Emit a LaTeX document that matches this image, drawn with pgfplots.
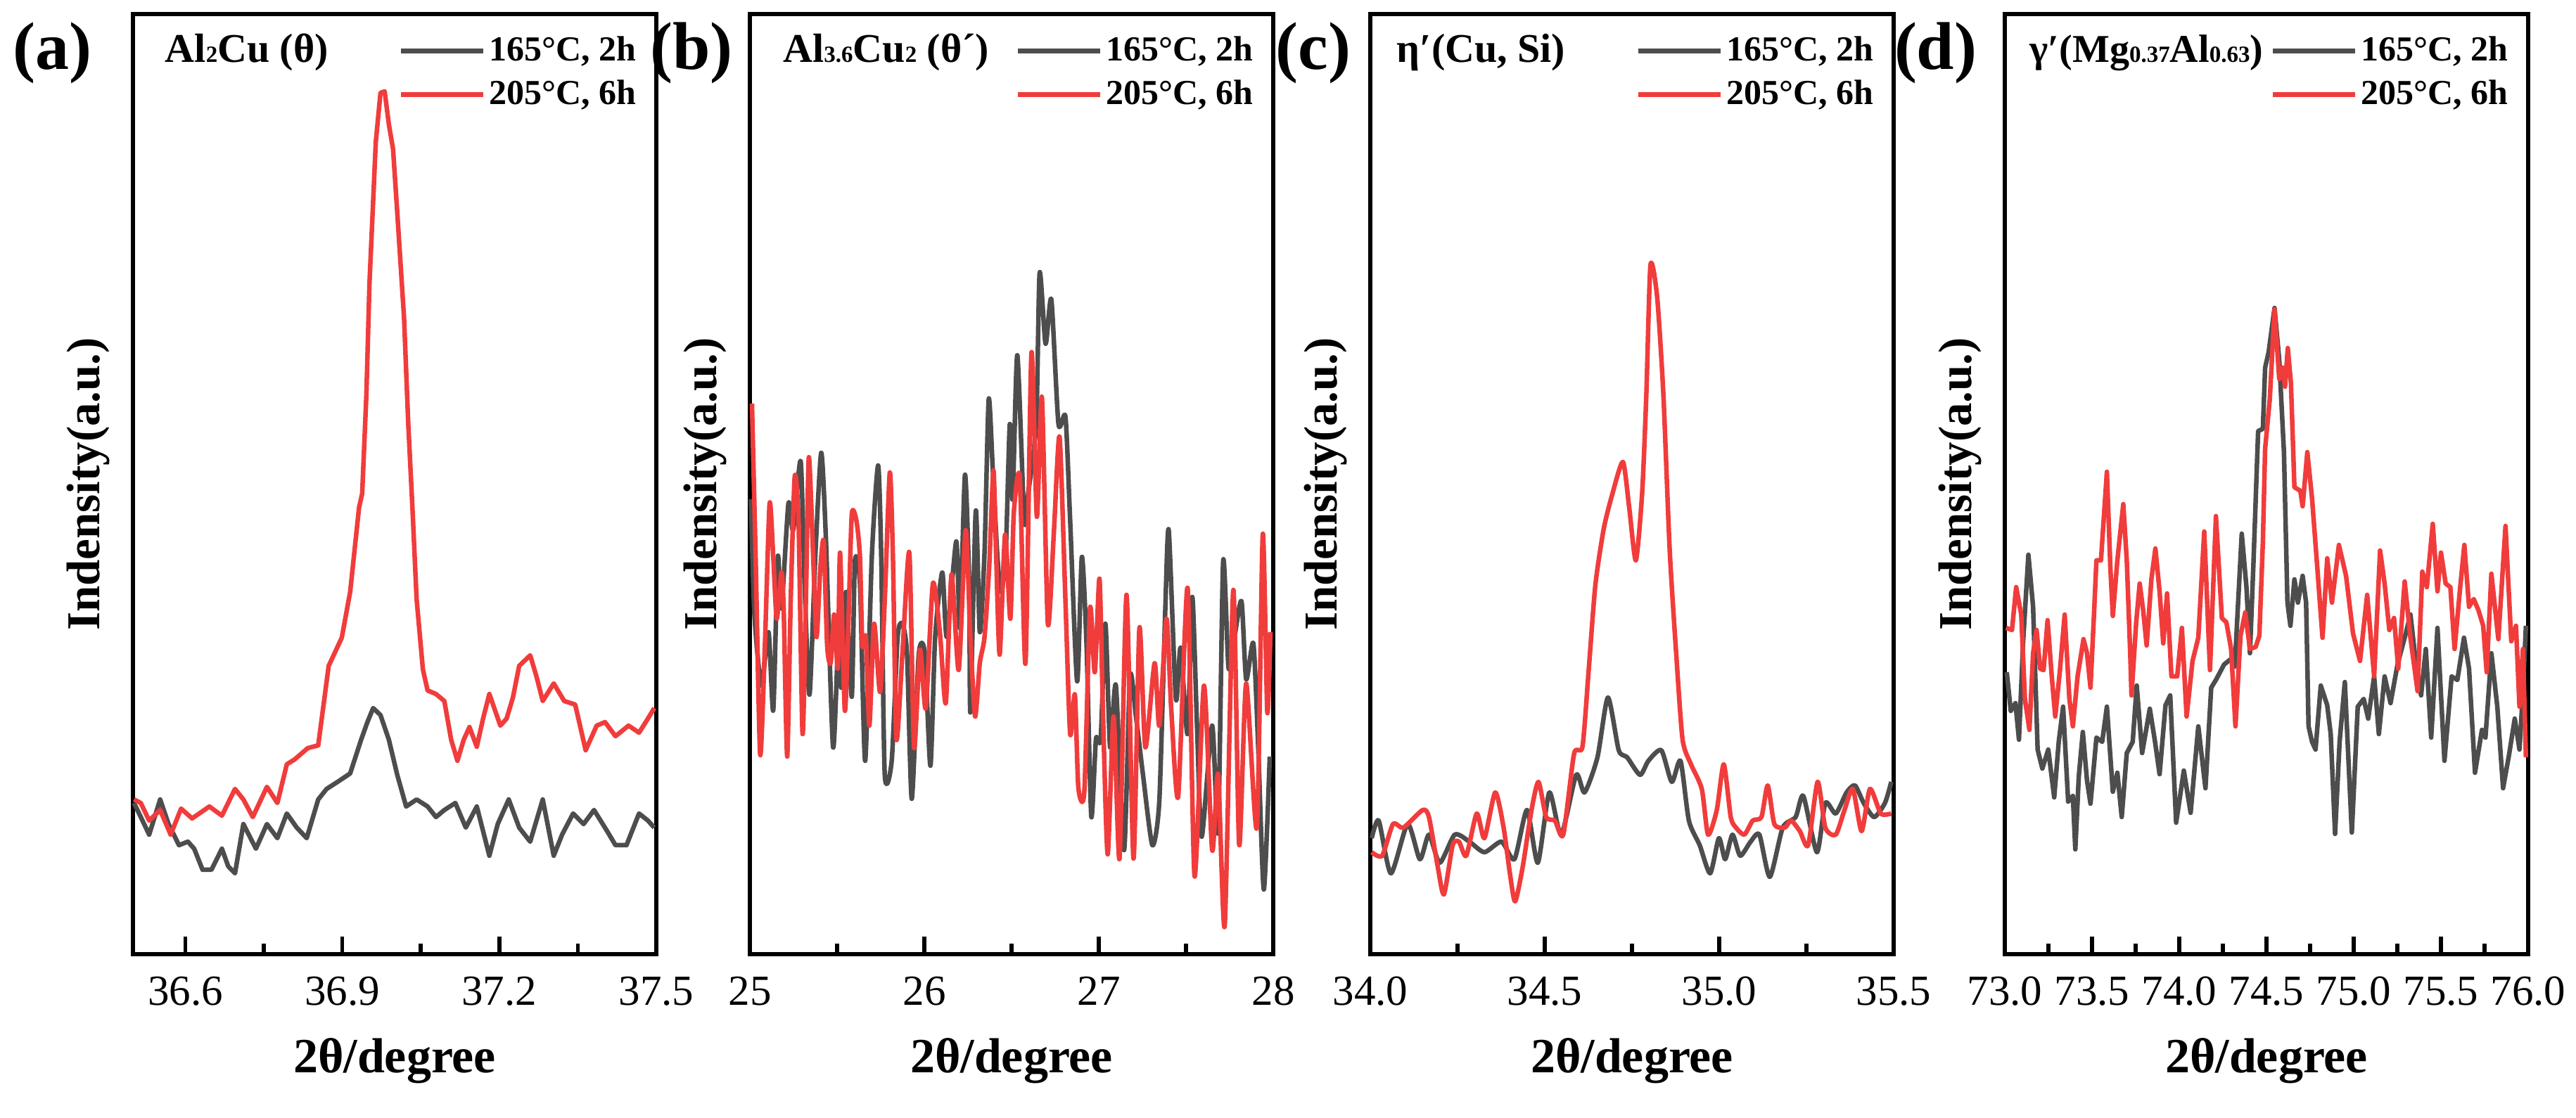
\documentclass[border=0pt]{standalone}
\usepackage{fontspec}
\setmainfont{Liberation Serif}
\usepackage{pgfplots}
\pgfplotsset{compat=1.18}
\definecolor{cgray}{RGB}{77,77,77}
\definecolor{cred}{RGB}{241,60,60}
\newcommand{\sub}[1]{{\fontsize{6.6pt}{6.6pt}\selectfont #1}}
\tikzset{
  ttl/.style={anchor=base west, font=\bfseries\fontsize{11.6pt}{11.6pt}\selectfont},
  plab/.style={anchor=base east, font=\bfseries\fontsize{19.2pt}{19.2pt}\selectfont},
}
\pgfplotsset{
  panel/.style={
    scale only axis, width=148.8pt, height=267.4pt, anchor=south west,
    clip=false,
    ymin=0, ymax=1337, ytick=\empty,
    axis line style={line width=1.1pt},
    tick align=inside, xtick pos=bottom,
    major tick length=5pt, minor tick length=3pt,
    every tick/.style={black, line width=1.1pt},
    xticklabel style={font=\fontsize{12.2pt}{12.2pt}\selectfont, anchor=base, yshift=-14.6pt},
    xlabel={2θ/degree},
    xlabel style={font=\bfseries\fontsize{14pt}{14pt}\selectfont, at={(axis description cs:0.5,-0.1257)}, anchor=base},
    ylabel={Indensity(a.u.)},
    ylabel style={font=\bfseries\fontsize{13.4pt}{13.4pt}\selectfont, at={(axis description cs:-0.0645,0.5)}, anchor=base},
    legend style={draw=none, fill=none, inner xsep=0pt, inner ysep=0pt,
      at={(axis description cs:0.969,0.983)}, anchor=north east,
      font=\bfseries\fontsize{10pt}{10pt}\selectfont, row sep=0.9pt,
      nodes={inner sep=1pt, text height=7.5pt, text depth=2pt}},
    legend cell align=left,
    legend image code/.code={\draw[##1, line width=1.4pt] (0cm,0cm) -- (0.82cm,0cm);},
  },
  gline/.style={color=cgray, line width=1.3pt, line join=round, mark=none},
  rline/.style={color=cred, line width=1.3pt, line join=round, mark=none},
}
\begin{document}
\begin{tikzpicture}
\path[use as bounding box] (0,0) rectangle (732.4pt,318pt);
% (a)
\begin{axis}[panel, at={(37.8pt,46.6pt)}, xmin=36.5, xmax=37.5,
  xtick={36.6,36.9,37.2,37.5}, xticklabels={36.6,36.9,37.2,37.5},
  minor xtick={36.75,37.05,37.35}]
\addplot[gline] coordinates {(36.502,215)(36.515,195)(36.531,170)(36.552,220)(36.568,185)(36.588,155)(36.605,160)(36.617,150)(36.633,120)(36.650,120)(36.670,150)(36.682,125)(36.695,115)(36.711,185)(36.735,150)(36.756,185)(36.776,165)(36.794,200)(36.813,180)(36.832,165)(36.854,220)(36.870,235)(36.891,245)(36.915,257)(36.936,305)(36.948,330)(36.959,350)(36.973,340)(36.989,305)(37.005,255)(37.022,210)(37.042,220)(37.063,210)(37.079,195)(37.095,205)(37.116,215)(37.136,180)(37.157,210)(37.181,140)(37.197,185)(37.218,220)(37.238,180)(37.259,160)(37.283,220)(37.304,140)(37.320,170)(37.341,200)(37.361,185)(37.381,205)(37.406,175)(37.422,155)(37.443,155)(37.467,200)(37.484,190)(37.496,180)};
\addlegendentry{165°C, 2h}
\addplot[rline] coordinates {(36.502,220)(36.515,215)(36.531,190)(36.552,205)(36.572,170)(36.592,207)(36.613,193)(36.646,210)(36.670,197)(36.695,235)(36.711,220)(36.729,195)(36.756,238)(36.776,215)(36.794,270)(36.809,277)(36.834,293)(36.854,297)(36.874,410)(36.899,450)(36.915,515)(36.932,635)(36.938,655)(36.946,795)(36.952,955)(36.964,1155)(36.973,1225)(36.981,1227)(36.989,1180)(36.997,1145)(37.005,1055)(37.018,905)(37.026,755)(37.034,635)(37.042,505)(37.054,405)(37.063,375)(37.079,370)(37.095,360)(37.108,305)(37.120,275)(37.132,305)(37.143,323)(37.157,295)(37.169,335)(37.181,370)(37.202,325)(37.214,335)(37.226,365)(37.238,410)(37.259,425)(37.271,395)(37.283,360)(37.304,385)(37.324,360)(37.345,355)(37.365,290)(37.386,325)(37.402,330)(37.422,310)(37.447,325)(37.467,315)(37.484,335)(37.496,350)};
\addlegendentry{205°C, 6h}
\node[ttl] at (axis description cs:0.038,0.949) {Al\sub{2}Cu (θ)};
\node[plab] at (axis description cs:-0.055,0.9415) {(a)};
\end{axis}
% (b)
\begin{axis}[panel, at={(213.2pt,46.6pt)}, xmin=25, xmax=28,
  xtick={25,26,27,28}, xticklabels={25,26,27,28},
  minor xtick={25.5,26.5,27.5}]
\addplot[gline, smooth, tension=0.4] coordinates {(25.006,647)(25.026,483)(25.066,382)(25.107,458)(25.134,347)(25.160,565)(25.181,492)(25.221,641)(25.248,603)(25.291,701)(25.315,515)(25.342,369)(25.376,571)(25.409,713)(25.436,590)(25.477,294)(25.510,470)(25.524,379)(25.551,515)(25.584,366)(25.602,559)(25.631,527)(25.661,275)(25.699,565)(25.735,695)(25.753,565)(25.773,256)(25.813,275)(25.847,451)(25.874,470)(25.901,426)(25.928,221)(25.968,426)(26.002,429)(26.035,268)(26.062,451)(26.103,543)(26.129,451)(26.183,587)(26.204,464)(26.233,682)(26.257,527)(26.264,344)(26.295,631)(26.318,458)(26.345,571)(26.369,789)(26.392,691)(26.419,565)(26.439,515)(26.466,565)(26.490,754)(26.506,647)(26.533,852)(26.573,616)(26.594,653)(26.641,754)(26.661,969)(26.695,868)(26.728,931)(26.769,754)(26.809,764)(26.836,616)(26.876,388)(26.903,565)(26.930,439)(26.957,196)(26.984,306)(27.011,306)(27.038,470)(27.065,294)(27.098,382)(27.145,148)(27.179,395)(27.213,338)(27.253,256)(27.307,155)(27.347,218)(27.381,489)(27.401,603)(27.442,363)(27.469,436)(27.509,313)(27.536,508)(27.563,325)(27.590,167)(27.650,325)(27.684,174)(27.713,559)(27.744,407)(27.778,451)(27.818,502)(27.845,391)(27.886,442)(27.913,300)(27.946,92)(27.980,281)};
\addlegendentry{165°C, 2h}
\addplot[rline, smooth, tension=0.4] coordinates {(25.012,783)(25.033,565)(25.059,284)(25.086,439)(25.113,641)(25.134,565)(25.154,477)(25.181,543)(25.194,489)(25.214,281)(25.234,502)(25.257,679)(25.279,616)(25.302,313)(25.322,515)(25.338,707)(25.362,571)(25.382,451)(25.403,546)(25.423,587)(25.443,439)(25.463,414)(25.483,483)(25.504,407)(25.517,571)(25.544,347)(25.564,464)(25.584,625)(25.611,616)(25.631,565)(25.645,439)(25.665,451)(25.685,325)(25.712,470)(25.746,373)(25.773,502)(25.802,685)(25.820,565)(25.840,306)(25.874,426)(25.914,571)(25.941,294)(25.975,433)(26.008,350)(26.049,527)(26.089,458)(26.123,357)(26.156,540)(26.197,404)(26.237,603)(26.264,451)(26.291,338)(26.318,414)(26.345,451)(26.372,552)(26.396,688)(26.412,565)(26.432,426)(26.463,597)(26.493,477)(26.513,628)(26.547,679)(26.580,414)(26.614,855)(26.645,622)(26.674,792)(26.708,470)(26.742,597)(26.775,736)(26.809,502)(26.836,313)(26.863,369)(26.883,237)(26.917,231)(26.950,492)(26.977,401)(27.004,534)(27.024,344)(27.051,142)(27.085,338)(27.119,136)(27.159,511)(27.199,136)(27.233,464)(27.267,294)(27.320,414)(27.347,325)(27.388,477)(27.415,350)(27.455,224)(27.509,521)(27.549,111)(27.603,382)(27.650,148)(27.684,256)(27.722,41)(27.771,518)(27.805,155)(27.845,385)(27.906,180)(27.940,597)(27.966,344)(27.984,458)};
\addlegendentry{205°C, 6h}
\node[ttl] at (axis description cs:0.040,0.949) {Al\sub{3.6}Cu\sub{2} (θ´)};
\node[plab] at (axis description cs:-0.0094,0.9415) {(b)};
\end{axis}
% (c)
\begin{axis}[panel, at={(389.6pt,46.6pt)}, xmin=34, xmax=35.5,
  xtick={34,34.5,35,35.5}, xticklabels={34.0,34.5,35.0,35.5},
  minor xtick={34.25,34.75,35.25}]
\addplot[gline, smooth, tension=0.4] coordinates {(34.004,165)(34.024,190)(34.059,115)(34.107,185)(34.142,135)(34.168,170)(34.199,130)(34.242,170)(34.284,160)(34.327,145)(34.376,160)(34.413,135)(34.449,205)(34.480,130)(34.513,230)(34.547,170)(34.590,255)(34.614,230)(34.651,280)(34.681,365)(34.712,290)(34.736,280)(34.773,255)(34.797,275)(34.834,290)(34.864,245)(34.889,275)(34.913,190)(34.944,155)(34.974,115)(34.999,165)(35.017,135)(35.038,170)(35.060,140)(35.090,160)(35.115,170)(35.145,110)(35.182,180)(35.219,195)(35.241,225)(35.280,145)(35.304,215)(35.334,200)(35.365,230)(35.389,240)(35.414,215)(35.444,195)(35.475,215)(35.493,245)};
\addlegendentry{165°C, 2h}
\addplot[rline, smooth, tension=0.4] coordinates {(34.004,145)(34.034,140)(34.065,185)(34.095,180)(34.150,205)(34.168,195)(34.193,125)(34.211,85)(34.236,155)(34.254,160)(34.275,140)(34.305,200)(34.327,165)(34.358,230)(34.382,180)(34.400,115)(34.415,75)(34.437,125)(34.462,205)(34.482,245)(34.504,195)(34.529,190)(34.553,170)(34.584,285)(34.608,295)(34.626,405)(34.645,525)(34.669,605)(34.694,655)(34.724,700)(34.742,635)(34.761,560)(34.779,655)(34.791,795)(34.803,980)(34.822,935)(34.840,795)(34.858,575)(34.877,425)(34.895,305)(34.919,270)(34.950,235)(34.968,170)(34.993,205)(35.013,270)(35.033,195)(35.048,180)(35.072,170)(35.096,190)(35.121,195)(35.139,240)(35.158,185)(35.188,180)(35.206,190)(35.231,175)(35.255,155)(35.282,245)(35.304,180)(35.334,170)(35.359,205)(35.383,235)(35.408,175)(35.432,235)(35.463,200)(35.493,200)};
\addlegendentry{205°C, 6h}
\node[ttl] at (axis description cs:0.027,0.949) {η′(Cu, Si)};
\node[plab] at (axis description cs:-0.0134,0.9415) {(c)};
\end{axis}
% (d)
\begin{axis}[panel, at={(570pt,46.6pt)}, xmin=73, xmax=76,
  xtick={73,73.5,74,74.5,75,75.5,76}, xticklabels={73.0,73.5,74.0,74.5,75.0,75.5,76.0},
  minor xtick={73.25,73.75,74.25,74.75,75.25,75.75}]
\addplot[gline] coordinates {(73.011,401)(73.034,346)(73.061,357)(73.081,305)(73.105,445)(73.135,568)(73.162,494)(73.188,291)(73.215,264)(73.249,291)(73.283,223)(73.309,302)(73.334,352)(73.363,217)(73.390,225)(73.404,149)(73.424,253)(73.447,316)(73.471,247)(73.491,214)(73.525,308)(73.558,302)(73.585,352)(73.619,231)(73.645,258)(73.670,195)(73.699,286)(73.733,302)(73.756,382)(73.787,286)(73.831,349)(73.861,302)(73.887,256)(73.921,354)(73.948,368)(73.982,187)(74.026,261)(74.065,201)(74.109,324)(74.150,236)(74.183,379)(74.210,390)(74.257,412)(74.297,420)(74.318,409)(74.358,598)(74.385,522)(74.405,428)(74.425,555)(74.452,744)(74.479,747)(74.492,834)(74.512,856)(74.546,919)(74.573,845)(74.600,714)(74.620,500)(74.637,467)(74.660,533)(74.680,500)(74.707,538)(74.727,500)(74.741,324)(74.761,302)(74.781,291)(74.811,382)(74.848,354)(74.868,313)(74.893,171)(74.919,302)(74.949,387)(74.989,173)(75.023,352)(75.057,363)(75.083,335)(75.117,395)(75.144,313)(75.177,395)(75.211,357)(75.251,412)(75.292,450)(75.325,483)(75.352,423)(75.386,368)(75.413,434)(75.444,308)(75.480,464)(75.520,275)(75.561,395)(75.594,390)(75.632,450)(75.661,406)(75.695,258)(75.735,319)(75.755,308)(75.789,428)(75.823,352)(75.856,236)(75.890,283)(75.923,335)(75.950,291)(75.970,374)(75.987,467)};
\addlegendentry{165°C, 2h}
\addplot[rline] coordinates {(73.007,464)(73.041,461)(73.065,522)(73.094,483)(73.115,363)(73.141,319)(73.162,428)(73.182,461)(73.202,406)(73.222,404)(73.245,475)(73.269,395)(73.289,338)(73.316,404)(73.343,483)(73.370,363)(73.390,324)(73.417,395)(73.451,448)(73.471,428)(73.491,379)(73.511,483)(73.525,560)(73.551,560)(73.585,686)(73.605,549)(73.619,481)(73.645,560)(73.679,640)(73.699,560)(73.719,426)(73.726,368)(73.753,472)(73.773,527)(73.793,489)(73.813,439)(73.840,533)(73.863,577)(73.887,516)(73.908,442)(73.930,513)(73.955,395)(73.988,395)(74.015,464)(74.042,338)(74.076,417)(74.109,450)(74.143,601)(74.176,404)(74.210,623)(74.244,478)(74.270,472)(74.297,434)(74.322,324)(74.351,453)(74.378,486)(74.405,434)(74.438,437)(74.459,453)(74.479,585)(74.492,719)(74.519,790)(74.546,917)(74.573,818)(74.593,834)(74.606,807)(74.622,862)(74.640,812)(74.660,664)(74.694,659)(74.707,637)(74.734,714)(74.761,648)(74.788,560)(74.821,450)(74.848,563)(74.875,500)(74.915,582)(74.956,538)(74.996,456)(75.036,417)(75.077,511)(75.117,395)(75.151,574)(75.177,527)(75.204,461)(75.231,478)(75.255,406)(75.292,530)(75.325,450)(75.366,374)(75.393,544)(75.419,522)(75.453,612)(75.480,516)(75.500,571)(75.527,527)(75.554,522)(75.578,434)(75.608,516)(75.634,582)(75.661,494)(75.688,505)(75.715,489)(75.742,467)(75.762,401)(75.789,541)(75.829,448)(75.870,609)(75.903,445)(75.930,467)(75.950,352)(75.970,434)(75.987,280)};
\addlegendentry{205°C, 6h}
\node[ttl, font=\bfseries\fontsize{11.2pt}{11.2pt}\selectfont] at (axis description cs:0.024,0.949) {γ′(Mg\sub{0.37}Al\sub{0.63})};
\node[plab] at (axis description cs:-0.0296,0.9415) {(d)};
\end{axis}
\end{tikzpicture}
\end{document}
